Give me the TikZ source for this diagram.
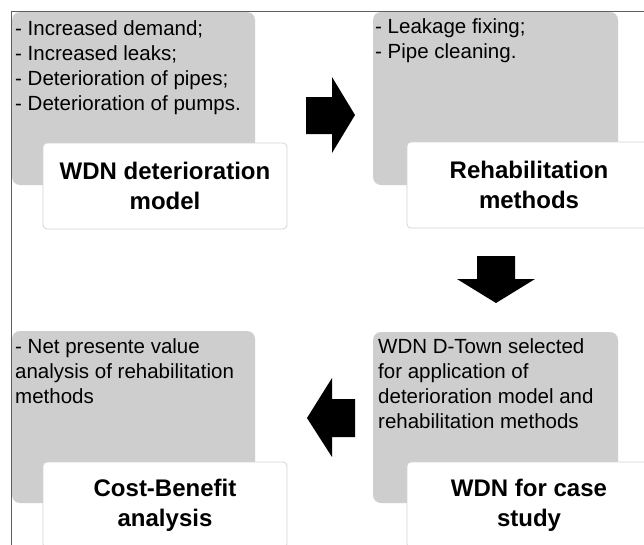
\documentclass[tikz,border=0pt]{standalone}
\usepackage{fontspec}
\setmainfont{Liberation Sans}
\definecolor{boxgray}{RGB}{206,206,206}
\definecolor{edgegray}{RGB}{212,212,212}
\definecolor{framegray}{RGB}{95,95,95}
\tikzset{
  graybox/.style={fill=boxgray, rounded corners=8pt, anchor=north west, inner sep=0pt, outer sep=0pt},
  bodytext/.style={anchor=north west, inner sep=0pt, align=left, font=\fontsize{20.5}{25}\selectfont},
  titlebox/.style={fill=white, draw=edgegray, line width=0.8pt, rounded corners=4pt, anchor=north west,
    inner sep=0pt, outer sep=0pt, minimum width=244pt, minimum height=86pt, align=center,
    font=\bfseries\fontsize{24}{30}\selectfont},
  blockarrow/.style={fill=black, draw=none}
}
\begin{document}
\begin{tikzpicture}[x=1pt,y=-1pt]
\useasboundingbox (0,0) rectangle (644,544);
\clip (0,0) rectangle (644,544);
\fill[white] (0,0) rectangle (644,544);
\draw[framegray, line width=1pt] (11,560) -- (11,11) -- (660,11);
% gray boxes
\node[graybox, minimum width=243pt, minimum height=173pt] (g1) at (12,12) {};
\node[graybox, minimum width=245pt, minimum height=173pt] (g2) at (373,12) {};
\node[graybox, minimum width=245pt, minimum height=171pt] (g3) at (373,332) {};
\node[graybox, minimum width=243pt, minimum height=172pt] (g4) at (12,331) {};
% body texts
\node[bodytext] (t1) at (15,20.5) {- Increased demand;\\- Increased leaks;\\- Deterioration of pipes;\\- Deterioration of pumps.};
\node[bodytext] (t2) at (375,18.5) {- Leakage fixing;\\- Pipe cleaning.};
\node[bodytext] (t3) at (378,338.5) {WDN D-Town selected\\for application of\\deterioration model and\\rehabilitation methods};
\node[bodytext] (t4) at (15,338.5) {- Net presente value\\analysis of rehabilitation\\methods};
% title boxes
\node[titlebox] (w1) at (43,143) {WDN deterioration\\model};
\node[titlebox] (w2) at (407,142) {Rehabilitation\\methods};
\node[titlebox] (w3) at (407,462) {WDN for case\\study};
\node[titlebox] (w4) at (43,462) {Cost-Benefit\\analysis};
% block arrows
\fill[blockarrow] (306,97) -- (332,97) -- (332,77) -- (355,115) -- (332,153) -- (332,134) -- (306,134) -- cycle;
\fill[blockarrow] (477,256) -- (515,256) -- (515,279) -- (535,279) -- (496,303) -- (457,279) -- (477,279) -- cycle;
\fill[blockarrow] (355,399) -- (332,399) -- (332,378) -- (307,418) -- (332,457) -- (332,437) -- (355,437) -- cycle;
\end{tikzpicture}
\end{document}
